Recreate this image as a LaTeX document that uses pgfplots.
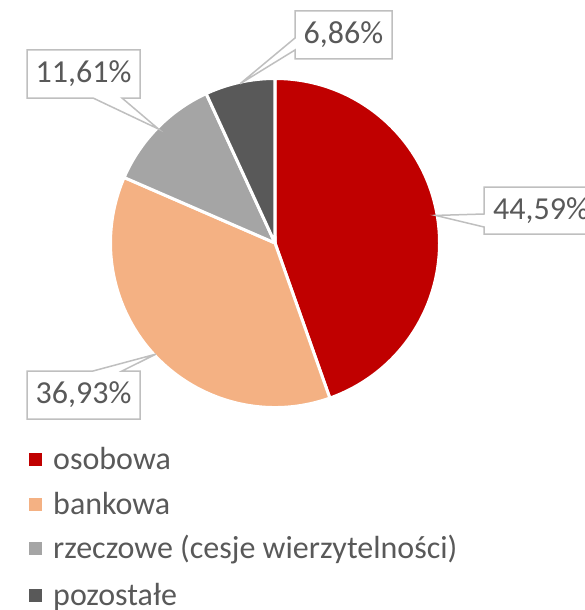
\documentclass[border=0pt]{standalone}
\usepackage{pgfplots}
\pgfplotsset{compat=1.18}
\usepackage{fontspec}
\setmainfont{Carlito}
\definecolor{cA}{HTML}{C00000}
\definecolor{cB}{HTML}{F4B183}
\definecolor{cC}{HTML}{A5A5A5}
\definecolor{cD}{HTML}{595959}
\definecolor{txt}{HTML}{595959}
\definecolor{frame}{HTML}{BFBFBF}
\tikzset{
  lbl/.style={font=\fontsize{32}{38}\selectfont, text=txt, inner sep=0pt},
  callout/.style={draw=frame, fill=white, line width=1.5pt, line join=miter}}
\begin{document}
\begin{tikzpicture}
\begin{axis}[
  hide axis, x=1pt, y=1pt, y dir=reverse,
  xmin=0, xmax=585, ymin=0, ymax=610]
% share of each category, in per cent, clockwise from 12 o'clock
\gdef\cum{0}
\foreach \v/\c in {44.59/cA, 36.93/cB, 11.61/cC, 6.86/cD}{
  \pgfmathsetmacro\sa{90-3.6*\cum}
  \pgfmathsetmacro\ea{90-3.6*(\cum+\v)}
  \pgfmathsetmacro\ma{(\sa+\ea)/2}
  \edef\tmp{\noexpand\draw[fill=\c, draw=white, line width=3pt, line join=round]
    (axis cs:275,243) -- ++(\sa:164.5pt) arc[start angle=\sa, end angle=\ea, radius=164.5pt] -- cycle;
    \noexpand\path (axis cs:275,243) ++(\ma:163pt) coordinate (tip\c);}
  \tmp
  \pgfmathsetmacro\newcum{\cum+\v}
  \xdef\cum{\newcum}
}
% data labels
\draw[callout] (axis cs:484,187) -- (axis cs:597,187) -- (axis cs:597,234) -- (axis cs:484,234)
  -- (axis cs:484,227) -- (tipcA) -- (axis cs:484,214) -- cycle;
\node[lbl, anchor=west] at (axis cs:493,210.5) {44,59\%};
\draw[callout] (axis cs:27,371) -- (axis cs:93,371) -- (tipcB) -- (axis cs:122,371) -- (axis cs:140,371)
  -- (axis cs:140,419) -- (axis cs:27,419) -- cycle;
\node[lbl] at (axis cs:83.5,395) {36,93\%};
\draw[callout] (axis cs:27,50) -- (axis cs:140,50) -- (axis cs:140,98) -- (axis cs:122,98)
  -- (tipcC) -- (axis cs:93,98) -- (axis cs:27,98) -- cycle;
\node[lbl] at (axis cs:83.5,74) {11,61\%};
\draw[callout] (axis cs:295,11) -- (axis cs:392,11) -- (axis cs:392,59) -- (axis cs:295,59)
  -- (axis cs:295,50) -- (tipcD) -- (axis cs:295,38) -- cycle;
\node[lbl] at (axis cs:343.5,35) {6,86\%};
% legend
\foreach \c/\yb/\t in {cA/469/osobowa, cB/514/bankowa,
    cC/558/rzeczowe (cesje wierzytelności), cD/605/pozostałe}{
  \edef\tmp{\noexpand\fill[\c] (axis cs:29,\yb-16.5) rectangle (axis cs:42,\yb-3.5);
    \noexpand\node[lbl, anchor=base west] at (axis cs:53,\yb) {\t};}
  \tmp
}
\end{axis}
\pgfresetboundingbox
\path (current axis.south west) rectangle (current axis.north east);
\end{tikzpicture}
\end{document}
